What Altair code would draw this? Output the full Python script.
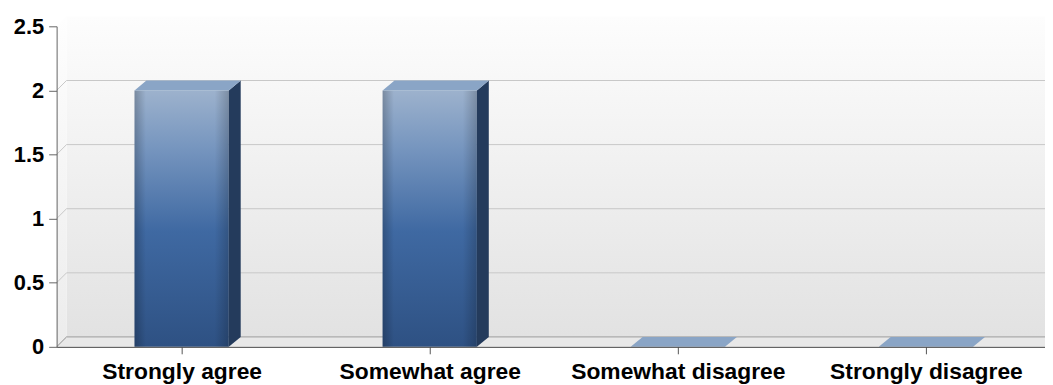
import json
import altair as alt
import pandas as pd

# ---------------- data ----------------
categories = ["Strongly agree", "Somewhat agree", "Somewhat disagree", "Strongly disagree"]
values = [2, 2, 0, 0]
y_tick_values = [0, 0.5, 1, 1.5, 2, 2.5]
grid_values = [0, 0.5, 1, 1.5, 2]

# ---------------- layout / style constants (pixels) ----------------
PLOT_W, PLOT_H = 996, 323
PAD = {"left": 49, "top": 17, "right": 0, "bottom": 37}
STEP = 250          # px per category
FIRST = 126         # px from plot left to first category centre
HALF = 47.5         # half bar width px
BAR_DX, WALL_DX, DEPTH_DY = 12, 10, 10
Y_MAX = 2.5
FONT = "Liberation Sans"

ux = 1.0 / STEP
uy = Y_MAX / PLOT_H
x_min = -FIRST * ux
x_max = x_min + PLOT_W * ux
bdx, wdx, ddy, hw = BAR_DX * ux, WALL_DX * ux, DEPTH_DY * uy, HALF * ux

xscale = alt.Scale(domain=[x_min, x_max], nice=False, zero=False)
yscale = alt.Scale(domain=[0, Y_MAX], nice=False, zero=False)
label_expr = json.dumps(categories) + "[datum.value]"
xaxis = alt.Axis(values=list(range(len(categories))), labelExpr=label_expr, title=None,
                 grid=False, domainColor="#444444", domainWidth=1, tickColor="#555555",
                 tickSize=7, labelPadding=7, labelFont=FONT, labelFontSize=23,
                 labelFontWeight="bold", labelColor="#000000", labelOverlap=False,
                 labelFlush=False, labelLimit=0, zindex=1)
yaxis = alt.Axis(values=y_tick_values, format="~g", title=None, grid=False,
                 domainColor="#666666", tickColor="#666666", tickSize=8, labelPadding=5,
                 labelFont=FONT, labelFontSize=22, labelFontWeight="bold",
                 labelColor="#000000", labelFlush=False, labelLimit=0, zindex=1)


def X(f):
    return alt.X(f"{f}:Q", scale=xscale, axis=xaxis)


def Y(f):
    return alt.Y(f"{f}:Q", scale=yscale, axis=yaxis)


def vgrad(stops, horizontal=False):
    return alt.Gradient(
        gradient="linear",
        stops=[alt.GradientStop(color=c, offset=o) for o, c in stops],
        x1=0, y1=0, x2=1 if horizontal else 0, y2=0 if horizontal else 1,
    )


# ---------------- derived tables ----------------
bars = pd.DataFrame({"i": list(range(len(categories))), "cat": categories, "v": values})
bars["l"] = bars["i"] - hw
bars["r"] = bars["i"] + hw
front = bars[bars["v"] > 0]

side_rows, top_rows = [], []
for _, b in front.iterrows():
    side_rows.append({"cat": b["cat"], "x": b["r"], "top": b["v"], "bot": 0.0})
    side_rows.append({"cat": b["cat"], "x": b["r"] + bdx, "top": b["v"] + ddy, "bot": ddy})
for _, b in bars.iterrows():
    top_rows.append({"cat": b["cat"], "y": b["v"], "xl": b["l"], "xr": b["r"]})
    top_rows.append({"cat": b["cat"], "y": b["v"] + ddy, "xl": b["l"] + bdx, "xr": b["r"] + bdx})
side = pd.DataFrame(side_rows)
topf = pd.DataFrame(top_rows)

back = pd.DataFrame([{"x": x_min + wdx, "x2": x_max, "y": ddy, "y2": Y_MAX + ddy}])
lwall = pd.DataFrame([{"k": "w", "x": x_min, "top": Y_MAX, "bot": 0.0},
                      {"k": "w", "x": x_min + wdx, "top": Y_MAX + ddy, "bot": ddy}])
floor = pd.DataFrame([{"k": "f", "y": 0.0, "xl": x_min, "xr": x_max},
                      {"k": "f", "y": ddy, "xl": x_min + wdx, "xr": x_max}])
grid = pd.DataFrame([{"y": v + ddy, "x": x_min + wdx, "x2": x_max,
                      "c": "#9c9c9c" if v == 0 else "#c8c8c8"} for v in grid_values])
diag = pd.DataFrame([{"x": x_min, "y": v, "x2": x_min + wdx, "y2": v + ddy,
                      "c": "#8c8c8c" if v == 0 else "#c8c8c8"} for v in grid_values])

# ---------------- layers ----------------
back_l = alt.Chart(back).mark_rect(
    color=vgrad([(0, "#fdfdfd"), (1, "#e2e2e2")])
).encode(x=X("x"), x2="x2", y=Y("y"), y2="y2")

lwall_l = alt.Chart(lwall).mark_area(
    orient="vertical", opacity=1, color=vgrad([(0, "#fefefe"), (1, "#ececec")])
).encode(x=X("x"), y=Y("top"), y2="bot", detail="k:N")

floor_l = alt.Chart(floor).mark_area(
    orient="horizontal", opacity=1, color="#e8e8e8"
).encode(y=Y("y"), x=X("xl"), x2="xr", detail="k:N")

grid_l = alt.Chart(grid).mark_rule(strokeWidth=1).encode(
    x=X("x"), x2="x2", y=Y("y"), color=alt.Color("c:N", scale=None))

diag_l = alt.Chart(diag).mark_rule(strokeWidth=1).encode(
    x=X("x"), x2="x2", y=Y("y"), y2="y2", color=alt.Color("c:N", scale=None))

front_l = alt.Chart(front).mark_bar(
    color=vgrad([(0, "#9db2cd"), (0.22, "#7796bf"), (0.55, "#3f69a2"), (1, "#2e5183")])
).encode(x=X("l"), x2="r", y=Y("v"), y2=alt.Y2(datum=0))

shade_l = alt.Chart(front).mark_bar(
    color=vgrad([(0, "rgba(0,0,0,0.22)"), (0.12, "rgba(0,0,0,0)"),
                 (0.85, "rgba(0,0,0,0)"), (1, "rgba(0,0,0,0.2)")], horizontal=True)
).encode(x=X("l"), x2="r", y=Y("v"), y2=alt.Y2(datum=0))

side_l = alt.Chart(side).mark_area(orient="vertical", opacity=1, color="#243b5c").encode(
    x=X("x"), y=Y("top"), y2="bot", detail="cat:N")

top_l = alt.Chart(topf).mark_area(orient="horizontal", opacity=1, color="#8aa5c6").encode(
    y=Y("y"), x=X("xl"), x2="xr", detail="cat:N")

chart = alt.layer(
    back_l, lwall_l, floor_l, grid_l, diag_l, front_l, shade_l, side_l, top_l
).properties(
    width=PLOT_W, height=PLOT_H, padding=PAD, autosize="none", background="#ffffff"
).configure_view(stroke=None)

chart.save("out.html", embed_options={"renderer": "svg", "actions": False})
